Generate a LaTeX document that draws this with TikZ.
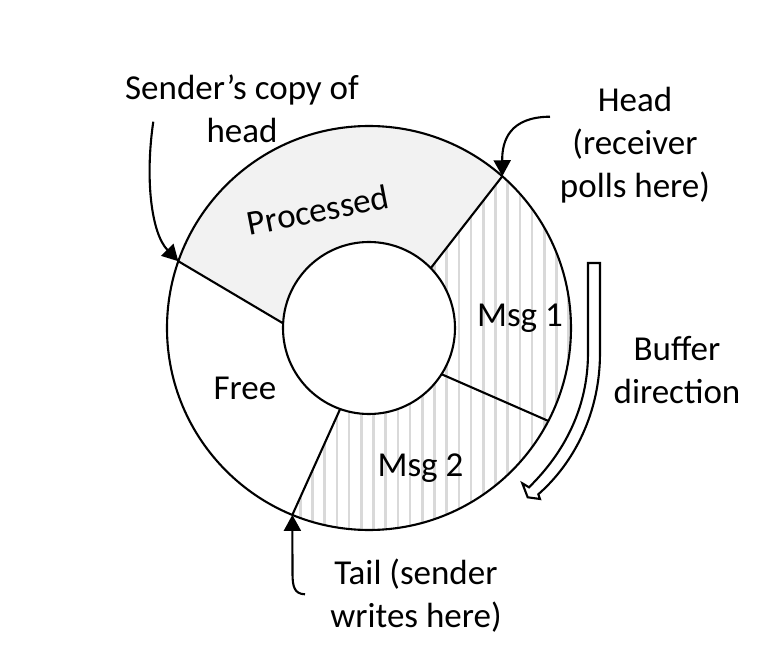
\documentclass[tikz,border=0pt]{standalone}
\usepackage{fontspec}
\setmainfont{Carlito}
\usetikzlibrary{arrows.meta}
\definecolor{procgray}{HTML}{F2F2F2}
\definecolor{hatchgray}{HTML}{D9D9D9}
\tikzset{
  lbl/.style={font=\fontsize{35}{43}\selectfont, align=center, inner sep=0pt},
  ring/.style={line width=2.1pt},
  ptr/.style={line width=2.1pt, -{Triangle[length=16pt,width=17pt]}}
}
\begin{document}
\begin{tikzpicture}[x=1pt,y=1pt]
\useasboundingbox (-369,-328) rectangle (395,328);
% processed part
\fill[procgray] (160.7:202) arc[start angle=160.7,end angle=48.7,radius=202] -- (44.1:86) arc[start angle=44.1,end angle=176.9,radius=86] -- cycle;
% message part
\begin{scope}
\clip (48.7:202) arc[start angle=48.7,end angle=-112.3,radius=202] -- (-109.6:86) arc[start angle=-109.6,end angle=44.1,radius=86] -- cycle;
\foreach \x in {-10,...,18} % edit here for the vertical lines
\draw[hatchgray, line width=2.6pt] ({4.5+12.2*\x},-210) -- ++(0,420);
\end{scope}
\draw[ring] (0,0) circle[radius=202];
\draw[ring] (0,0) circle[radius=86];
\foreach \a/\b in {160.7/176.9, 48.7/44.1, -27.4/-32.5, -112.3/-109.6} % edit here for the borders
\draw[ring] (\a:202) -- (\b:86);
% pointers on the ring
\coordinate (sndhead) at (160.7:202);
\coordinate (rcvhead) at (48.7:202);
\coordinate (sndtail) at (-112.3:202);
\coordinate (sndfrom) at (-215.7,206.3);
\coordinate (rcvfrom) at (181,211.3);
\coordinate (tailfrom) at (-64,-266.3);
% labels
\node[lbl] (sender) at (-127,219) {Sender’s copy of\\head};
\node[lbl] (head) at (266,183) {Head\\(receiver\\polls here)};
\node[lbl] (tail) at (47,-267.5) {Tail (sender\\writes here)};
\node[lbl] (dir) at (308,-42) {Buffer\\direction};
\node[lbl, anchor=base] (msg1) at (151,1) {Msg 1};
\node[lbl, anchor=base] (msg2) at (51.5,-148.7) {Msg 2};
\node[lbl, anchor=base] (free) at (-124,-71.3) {Free};
\node[lbl, rotate=11] (proc) at (-51,118) {Processed};
\draw[ptr] (sndfrom) .. controls (-224,150) and (-218,95) .. (sndhead);
\draw[ptr] (rcvfrom) .. controls (141,211) and (133,188) .. (rcvhead);
\draw[ptr] (tailfrom) .. controls (-75,-266) and (-76.5,-258) .. (-76.5,-245) -- (sndtail);
% buffer direction
\draw[line width=2.1pt, fill=white, line join=miter] (219,65) -- (231,65) -- (231,-25) .. controls (231,-85) and (205,-135) .. (169.3,-166.3) -- (171,-171) -- (158.7,-169.3) -- (153.3,-155.3) -- (160,-159.3) .. controls (195,-125) and (219,-80) .. (219,-25) -- cycle;
\end{tikzpicture}
\end{document}
